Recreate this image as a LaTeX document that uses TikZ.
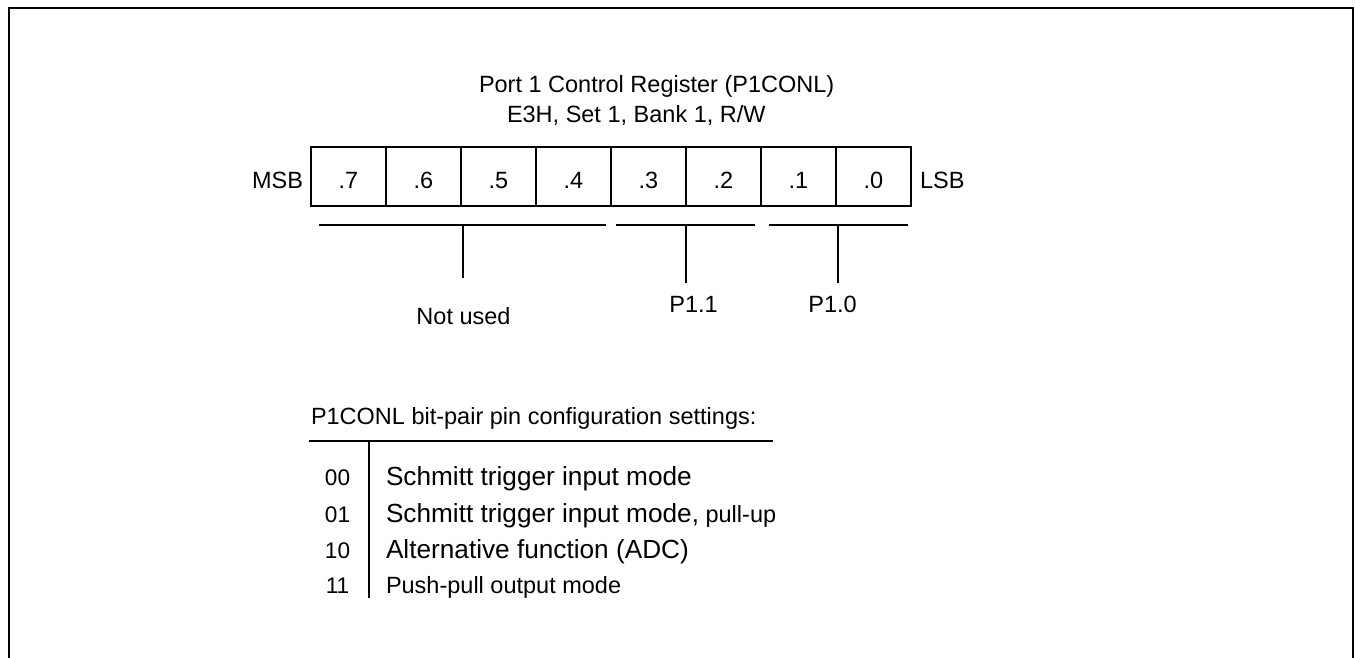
\documentclass[tikz,border=0pt]{standalone}
\usepackage{fontspec}
\setmainfont{Liberation Sans}
\usepackage{tikz}
\usetikzlibrary{positioning}

\begin{document}
\begin{tikzpicture}[x=0.5pt, y=-0.5pt,
            txt/.style={font=\fontsize{11.75}{14}\selectfont, inner sep=0pt, outer sep=0pt},
            bigtxt/.style={font=\fontsize{13.1}{16}\selectfont, inner sep=0pt, outer sep=0pt},
            codetxt/.style={font=\fontsize{11.3}{13}\selectfont, inner sep=0pt, outer sep=0pt},
            bitcell/.style={rectangle, draw, line width=0.65pt, minimum width=37.5pt, minimum height=29.5pt, inner sep=0pt, outer sep=0pt, font=\fontsize{11.75}{14}\selectfont, text height=11.5pt, text depth=0pt},
            side/.style={txt, text height=11.5pt, text depth=0pt},
            rule/.style={line width=0.65pt},
            frame/.style={line width=1.15pt}
        ]
            \useasboundingbox (0,0) rectangle (1355,658);
            \draw[frame] (9,662) -- (9,8) -- (1353,8) -- (1353,662);
            
            % title
            \node[txt, anchor=base west] (title) at (479,93) {Port 1 Control Register (P1CONL)};
            \node[txt, anchor=base west] (addr) at (507,123) {E3H, Set 1, Bank 1, R/W};
            
            % register bits
            \node[bitcell] (b7) at (348.5,176.5) {.7};
            \node[bitcell, right=0pt of b7] (b6) {.6};
            \node[bitcell, right=0pt of b6] (b5) {.5};
            \node[bitcell, right=0pt of b5] (b4) {.4};
            \node[bitcell, right=0pt of b4] (b3) {.3};
            \node[bitcell, right=0pt of b3] (b2) {.2};
            \node[bitcell, right=0pt of b2] (b1) {.1};
            \node[bitcell, right=0pt of b1] (b0) {.0};
            \node[side, left=4pt of b7] (msb) {MSB};
            \node[side, right=4.5pt of b0] (lsb) {LSB};
            
            % bit groups
            \node[txt, anchor=base] (unused) at (463.5,324) {Not used};
            \node[txt, anchor=base] (pin1) at (693.5,312) {P1.1};
            \node[txt, anchor=base] (pin0) at (832.5,312) {P1.0};
            \coordinate (hiL) at (319,225);
            \coordinate (hiR) at (606,225);
            \coordinate (hiT) at (463,225);
            \coordinate (p1L) at (616,225);
            \coordinate (p1R) at (755,225);
            \coordinate (p1T) at (686,225);
            \coordinate (p0L) at (769,225);
            \coordinate (p0R) at (908,225);
            \coordinate (p0T) at (838,225);
            \draw[rule] (hiL) -- (hiR);
            \draw[rule] (p1L) -- (p1R);
            \draw[rule] (p0L) -- (p0R);
            \draw[rule, shorten >=14.5pt] (hiT) -- (hiT |- unused.north);
            \draw[rule, shorten >=6.5pt] (p1T) -- (p1T |- pin1.north);
            \draw[rule, shorten >=6.5pt] (p0T) -- (p0T |- pin0.north);
            
            % settings table
            \node[txt, anchor=base west] (cfg) at (311,424) {P1CONL bit-pair pin configuration settings:};
            \coordinate (ruleL) at (309,441);
            \coordinate (ruleR) at (773,441);
            \coordinate (sepT) at (369,441);
            \coordinate (sepB) at (369,598);
            \draw[rule] (ruleL) -- (ruleR);
            \draw[rule] (sepT) -- (sepB);
            
            \node[codetxt, anchor=base] (c00) at (337.5,485) {00};
            \node[bigtxt, anchor=base west] (m00) at (386,485) {Schmitt trigger input mode};
            \node[codetxt, anchor=base] (c01) at (337.5,522) {01};
            \node[bigtxt, anchor=base west] (m01) at (386,522) {Schmitt trigger input mode,\fontsize{11.75}{14}\selectfont{} pull-up};
            \node[codetxt, anchor=base] (c10) at (337.5,558) {10};
            \node[bigtxt, anchor=base west] (m10) at (386,558) {Alternative function (ADC)};
            \node[codetxt, anchor=base] (c11) at (337.5,593) {11};
            \node[txt, anchor=base west] (m11) at (386,593) {Push-pull output mode};
            
        \end{tikzpicture}
\end{document}
